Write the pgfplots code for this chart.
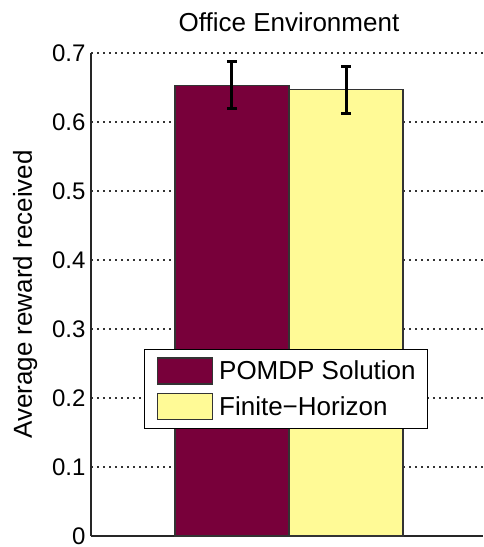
\documentclass[border=0pt]{standalone}
\usepackage{pgfplots}
\pgfplotsset{compat=1.18}
\usepackage{fontspec}
\setmainfont{Liberation Sans}
\definecolor{pomdp}{RGB}{120,0,58}
\definecolor{finite}{RGB}{255,250,150}
\begin{document}
\begin{tikzpicture}
\begin{axis}[
  name=ax,
  scale only axis,
  width=392pt, height=483pt,
  xmin=0.479, xmax=1.5105,
  ymin=0, ymax=0.7,
  axis x line*=bottom, axis y line*=left,
  axis line style={-, line width=1.5pt, black!85},
  xtick=\empty,
  ytick={0,0.1,0.2,0.3,0.4,0.5,0.6,0.7},
  yticklabels={0,0.1,0.2,0.3,0.4,0.5,0.6,0.7},
  yticklabel style={font=\fontsize{24}{28}\selectfont, xshift=-2pt},
  major tick length=0pt,
  ymajorgrids,
  grid style={line width=1.2pt, black!80, dash pattern=on 1.5pt off 4.5pt},
  title={Office Environment},
  title style={font=\fontsize{26}{30}\selectfont, at={(axis description cs:0.505,1.062)}, anchor=center, yshift=-5pt},
  ylabel={Average reward received},
  ylabel style={font=\fontsize{26}{30}\selectfont, at={(axis description cs:-0.168,0.5)}, anchor=center},
  legend style={at={(axis description cs:0.135,0.2215)}, anchor=south west,
    draw=black, line width=1.5pt, fill=white,
    font=\fontsize{26}{30}\selectfont,
    nodes={inner sep=0pt},
    inner xsep=12pt, inner ysep=8pt, row sep=8pt, column sep=6pt,
    cells={anchor=west}},
  legend image code/.code={\draw[#1, line width=1.5pt] (0pt,-13pt) rectangle (55pt,13pt);},
  error bars/error bar style={line width=3pt, black},
  error bars/error mark options={rotate=90, mark size=5pt, line width=3pt, black},
]
\addplot[ybar, bar width=0.3, bar shift=0pt, fill=pomdp, draw=black!80, line width=1.5pt,
  error bars/.cd, y dir=both, y explicit]
  coordinates {(0.85,0.653) +- (0,0.034)};
\addlegendentry{POMDP Solution}
\addplot[ybar, bar width=0.3, bar shift=0pt, fill=finite, draw=black!80, line width=1.5pt,
  error bars/.cd, y dir=both, y explicit]
  coordinates {(1.15,0.647) +- (0,0.034)};
\addlegendentry{Finite−Horizon}
\end{axis}
\pgfresetboundingbox
\path[use as bounding box] ([xshift=-91pt,yshift=-11pt]ax.south west) rectangle ([yshift=53pt]ax.north east);
\end{tikzpicture}
\end{document}
